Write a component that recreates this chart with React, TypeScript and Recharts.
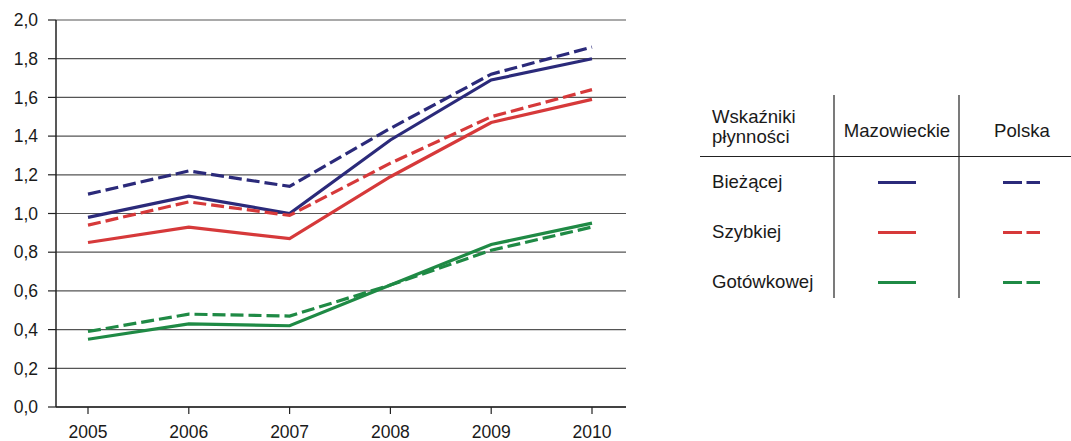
import { LineChart, Line, XAxis, YAxis, CartesianGrid } from 'recharts'

const years = ['2005', '2006', '2007', '2008', '2009', '2010']

// Wskaźniki płynności – województwo mazowieckie (solid) vs Polska (dashed)
const biezacejMaz = [0.98, 1.09, 1.0, 1.38, 1.69, 1.8]
const biezacejPl = [1.1, 1.22, 1.14, 1.44, 1.72, 1.86]
const szybkiejMaz = [0.85, 0.93, 0.87, 1.19, 1.47, 1.59]
const szybkiejPl = [0.94, 1.06, 0.99, 1.26, 1.5, 1.64]
const gotowkowejMaz = [0.35, 0.43, 0.42, 0.63, 0.84, 0.95]
const gotowkowejPl = [0.39, 0.48, 0.47, 0.63, 0.81, 0.93]

const yTicks = [0, 0.2, 0.4, 0.6, 0.8, 1.0, 1.2, 1.4, 1.6, 1.8, 2.0]

const indicators = ['Bieżącej', 'Szybkiej', 'Gotówkowej']
const colors = ['#2b2a7a', '#d6393a', '#1f8a45']
const columns = ['Mazowieckie', 'Polska']

const data = years.map((year, i) => ({
  year,
  bMaz: biezacejMaz[i],
  bPl: biezacejPl[i],
  sMaz: szybkiejMaz[i],
  sPl: szybkiejPl[i],
  gMaz: gotowkowejMaz[i],
  gPl: gotowkowejPl[i],
}))

const series = [
  { key: 'bMaz', color: colors[0], dashed: false },
  { key: 'bPl', color: colors[0], dashed: true },
  { key: 'sMaz', color: colors[1], dashed: false },
  { key: 'sPl', color: colors[1], dashed: true },
  { key: 'gMaz', color: colors[2], dashed: false },
  { key: 'gPl', color: colors[2], dashed: true },
]

const FONT = '"Liberation Sans", Arial, sans-serif'
const TEXT = '#1a1a1a'
const LEGEND_SIZE = 18.6

function LegendTable() {
  return (
    <svg
      width={1071}
      height={441}
      style={{ position: 'absolute', left: 0, top: 0, pointerEvents: 'none' }}
      fontFamily={FONT}
      fill={TEXT}
    >
      <line x1={834} x2={834} y1={95} y2={298} stroke="#222" strokeWidth={1.2} />
      <line x1={959} x2={959} y1={95} y2={298} stroke="#222" strokeWidth={1.2} />
      <line x1={700} x2={1071} y1={156.5} y2={156.5} stroke="#222" strokeWidth={1.2} />
      <text x={712} y={123} fontSize={LEGEND_SIZE}>Wskaźniki</text>
      <text x={712} y={143} fontSize={LEGEND_SIZE}>płynności</text>
      {columns.map((c, j) => (
        <text key={c} x={897 + j * 125} y={137} fontSize={LEGEND_SIZE} textAnchor="middle">
          {c}
        </text>
      ))}
      {indicators.map((name, i) => {
        const y = 188 + i * 50
        return (
          <g key={name}>
            <text x={712} y={y} fontSize={LEGEND_SIZE}>{name}</text>
            <line x1={878} x2={916} y1={y - 5.5} y2={y - 5.5} stroke={colors[i]} strokeWidth={3} />
            <line
              x1={1003}
              x2={1040}
              y1={y - 5.5}
              y2={y - 5.5}
              stroke={colors[i]}
              strokeWidth={3}
              strokeDasharray="19 4.5"
            />
          </g>
        )
      })}
    </svg>
  )
}

export default function App() {
  return (
    <div style={{ position: 'absolute', left: 0, top: 0, width: 1071, height: 441, background: '#fff' }}>
      <LineChart
        width={1071}
        height={441}
        data={data}
        margin={{ top: 20, right: 445, bottom: 4, left: 0 }}
      >
        <CartesianGrid vertical={false} stroke="#555" strokeWidth={1.2} />
        <XAxis
          dataKey="year"
          padding={{ left: 32, right: 34 }}
          height={30}
          tickSize={7}
          tickMargin={12}
          interval={0}
          axisLine={{ stroke: '#222', strokeWidth: 1.5 }}
          tickLine={{ stroke: '#222', strokeWidth: 1.2 }}
          tick={{ fill: TEXT, fontSize: 17.5, fontFamily: FONT }}
        />
        <YAxis
          width={56}
          domain={[0, 2]}
          ticks={yTicks}
          interval={0}
          tickSize={8}
          tickMargin={10}
          tickFormatter={(v: number) => v.toFixed(1).replace('.', ',')}
          axisLine={{ stroke: '#222', strokeWidth: 1.5 }}
          tickLine={{ stroke: '#222', strokeWidth: 1.2 }}
          tick={{ fill: TEXT, fontSize: 17.5, fontFamily: FONT }}
        />
        <YAxis
          yAxisId="frame"
          orientation="right"
          width={0}
          domain={[0, 1]}
          tick={false}
          tickLine={false}
          axisLine={{ stroke: '#222', strokeWidth: 1.5 }}
        />
        {series.map((s) => (
          <Line
            key={s.key}
            dataKey={s.key}
            type="linear"
            stroke={s.color}
            strokeWidth={3.2}
            strokeDasharray={s.dashed ? '13 5' : undefined}
            dot={false}
            activeDot={false}
            isAnimationActive={false}
          />
        ))}
      </LineChart>
      <LegendTable />
    </div>
  )
}
